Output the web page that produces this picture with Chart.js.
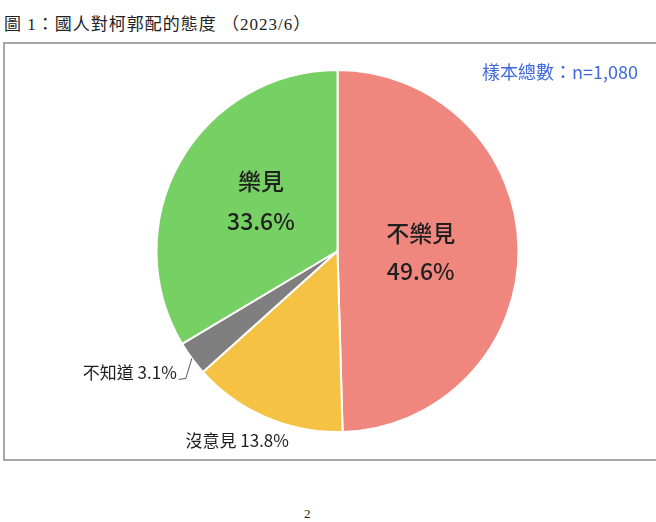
<!DOCTYPE html>
<html>
<head>
<meta charset="utf-8">
<script src="https://cdn.jsdelivr.net/npm/chart.js@4"></script>
<style>
    html, body { margin: 0; padding: 0; background: #fff; }
    body { width: 656px; height: 522px; position: relative; overflow: hidden; }
    #title {
        position: absolute; left: 4px; top: 10px;
        font-family: "Liberation Serif", "Noto Sans CJK TC", serif;
        font-size: 17px; color: #222; letter-spacing: 1px; white-space: nowrap;
    }
    #frame {
        position: absolute; left: 3px; top: 42px; width: 700px; height: 415px;
        border: 2px solid #a6a6a6; border-right: none;
    }
    #page {
        position: absolute; left: 304px; top: 506px;
        font-family: "Liberation Serif", serif; font-size: 13px; color: #222;
    }
    #chartBox { position: absolute; left: 0; top: 0; width: 656px; height: 522px; }
</style>
</head>
<body>
<div id="title">圖 1：國人對柯郭配的態度 （2023/6）</div>
<div id="frame"></div>
<div id="page">2</div>
<div id="chartBox"><canvas id="attitudeChart" width="656" height="522"></canvas></div>
<script>
// 國人對柯郭配的態度 (%)
const categories = ["不樂見", "沒意見", "不知道", "樂見"];
const shares = [49.6, 13.8, 3.1, 33.6];
const sliceColors = ["#f0877f", "#f5c243", "#7f7f7f", "#76d064"];
const sampleNote = "樣本總數：n=1,080";

const FONT = '"Noto Sans CJK TC", "Noto Sans", sans-serif';

// how each slice is labelled: inside (two lines) or outside with a leader
const labelPlan = [
    { mode: "inside", frac: 0.46, gap: 19, dx: 0, dy: 2 },
    { mode: "outside", dx: -29, dy: 23 },
    { mode: "leader" },
    { mode: "inside", frac: 0.55, gap: 20, dx: 10, dy: -1 }
];

const sliceLabels = {
    id: "sliceLabels",
    afterDatasetsDraw(chart) {
        const ctx = chart.ctx;
        const arcs = chart.getDatasetMeta(0).data;
        ctx.save();
        ctx.fillStyle = "#1f1f1f";
        arcs.forEach((arc, i) => {
            const plan = labelPlan[i];
            const mid = (arc.startAngle + arc.endAngle) / 2;
            const r = arc.outerRadius;
            const pct = shares[i].toFixed(1) + "%";
            if (plan.mode === "inside") {
                const cx = arc.x + Math.cos(mid) * r * plan.frac + plan.dx;
                const cy = arc.y + Math.sin(mid) * r * plan.frac + plan.dy;
                ctx.font = "500 23px " + FONT;
                ctx.textAlign = "center";
                ctx.textBaseline = "middle";
                ctx.fillText(categories[i], cx, cy - plan.gap);
                ctx.fillText(pct, cx, cy + plan.gap);
            } else if (plan.mode === "outside") {
                const cx = arc.x + Math.cos(mid) * r + plan.dx;
                const cy = arc.y + Math.sin(mid) * r + plan.dy;
                ctx.font = "17px " + FONT;
                ctx.textAlign = "center";
                ctx.textBaseline = "middle";
                ctx.fillText(categories[i] + " " + pct, cx, cy);
            } else {
                const px = arc.x + Math.cos(mid) * r;
                const py = arc.y + Math.sin(mid) * r;
                ctx.strokeStyle = "#555";
                ctx.lineWidth = 1;
                ctx.beginPath();
                ctx.moveTo(px, py);
                ctx.lineTo(px - 6, py + 20);
                ctx.lineTo(px - 13, py + 21);
                ctx.stroke();
                ctx.font = "17px " + FONT;
                ctx.textAlign = "right";
                ctx.textBaseline = "middle";
                ctx.fillText(categories[i] + " " + pct, px - 15, py + 14);
            }
        });
        // sample size note, top right of the frame
        ctx.font = "18px " + FONT;
        ctx.fillStyle = "#4169dc";
        ctx.textAlign = "right";
        ctx.textBaseline = "middle";
        ctx.fillText(sampleNote, 638, 72);
        ctx.restore();
    }
};

new Chart(document.getElementById("attitudeChart").getContext("2d"), {
    type: "pie",
    data: {
        labels: categories,
        datasets: [{
            data: shares,
            backgroundColor: sliceColors,
            borderColor: "#ffffff",
            borderWidth: 2,
            radius: 181
        }]
    },
    options: {
        responsive: false,
        animation: false,
        events: [],
        layout: { padding: { left: 19, right: 0, top: 0, bottom: 20 } },
        plugins: {
            legend: { display: false },
            tooltip: { enabled: false },
            title: { display: false }
        }
    },
    plugins: [sliceLabels]
});
</script>
</body>
</html>
